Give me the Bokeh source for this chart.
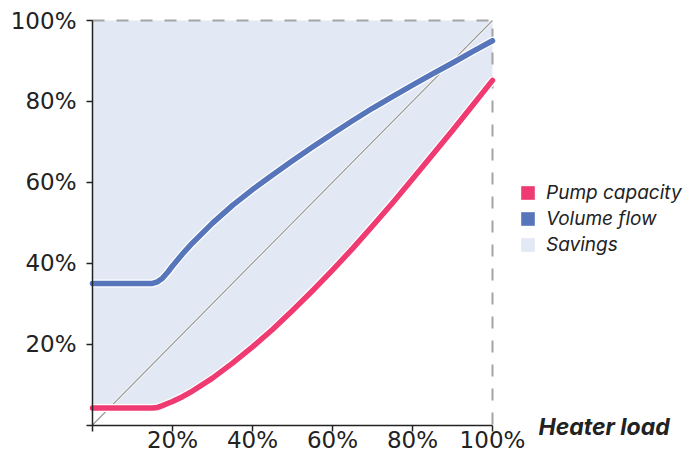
from bokeh.plotting import figure
from bokeh.models import Range1d, FixedTicker, PrintfTickFormatter, Legend, LegendItem, Label
from bokeh.embed import file_html
from bokeh.resources import INLINE

# ---- data ----
load = [0, 5, 10, 15, 16.25, 17.5, 18.75, 20, 22.5, 25, 30, 35, 40, 45, 50, 55, 60, 65, 70,
        75, 80, 85, 90, 95, 100]
pump_capacity = [4.2, 4.2, 4.2, 4.2, 4.35, 4.8, 5.3, 5.8, 7.0, 8.4, 11.6, 15.3, 19.3, 23.6,
                 28.3, 33.2, 38.3, 43.6, 49.2, 54.9, 60.8, 66.8, 72.8, 79.0, 85.2]
volume_flow = [35, 35, 35, 35, 35.4, 36.3, 37.7, 39.3, 42.3, 45.0, 49.9, 54.3, 58.2, 61.8,
               65.3, 68.7, 72.0, 75.2, 78.3, 81.2, 84.0, 86.8, 89.5, 92.3, 95.0]
savings_top = 100
diag_x = [0, 100]
diag_y = [0, 100]
box_x = [0, 100, 100]
box_y = [100, 100, 0]
ticks = [0, 20, 40, 60, 80, 100]
legend_labels = ["Pump capacity", "Volume flow", "Savings"]
x_title = "Heater load"

RED = "#EF3A72"
BLUE = "#5675BA"
FILL = "#E2E8F4"
INK = "#222222"
NAN = float("nan")

W, H = 686, 454
p = figure(width=W, height=H, output_backend="svg", toolbar_location=None,
           x_range=Range1d(-23, -23 + W / 4.0),
           y_range=Range1d(-29.5 / 4.045, 424.5 / 4.045),
           min_border_left=0, min_border_right=0, min_border_top=0, min_border_bottom=0)
p.outline_line_color = None
p.grid.visible = False
p.background_fill_color = "white"
p.border_fill_color = "white"

# savings area
p.varea(x=load, y1=pump_capacity, y2=savings_top, fill_color=FILL)
# dashed frame
p.line(box_x, box_y, line_color="#A3A3A3", line_width=2, line_dash="12 12")
# diagonal
p.line(diag_x, diag_y, line_color="white", line_width=2.5)
p.line(diag_x, diag_y, line_color="#9A9A9A", line_width=1.2)
# curves with white halo
for ys, col in ((volume_flow, BLUE), (pump_capacity, RED)):
    p.line(load, ys, line_color="white", line_width=8, line_cap="round", line_join="round")
    p.line(load, ys, line_color=col, line_width=5.5, line_cap="round", line_join="round")

# legend swatches (legend-only renderers, no visible marks)
swatches = []
for col in (RED, BLUE, FILL):
    swatches.append(p.quad(left=[NAN], right=[NAN], top=[NAN], bottom=[NAN],
                           fill_color=col, line_color=None))
legend = Legend(items=[LegendItem(label=lab, renderers=[r]) for lab, r in zip(legend_labels, swatches)],
                location=(519, 198), glyph_width=17, glyph_height=17, label_height=17,
                label_standoff=10, spacing=3, padding=0, margin=0,
                border_line_alpha=0, background_fill_alpha=0,
                label_text_font="Inter", label_text_font_style="italic",
                label_text_font_size="19px", label_text_color=INK)
p.add_layout(legend)

# axes, pinned at the data origin
for ax in (p.xaxis, p.yaxis):
    ax.fixed_location = 0
    ax.ticker = FixedTicker(ticks=ticks)
    ax.formatter = PrintfTickFormatter(format="%d%%")
    ax.major_label_overrides = {0: ""}
    ax.bounds = (0, 100)
    ax.axis_line_color = INK
    ax.axis_line_width = 1.5
    ax.major_tick_line_color = INK
    ax.major_tick_line_width = 1.5
    ax.major_tick_out = 6
    ax.major_tick_in = 0
    ax.minor_tick_line_color = None
    ax.major_label_text_font = "DejaVu Sans"
    ax.major_label_text_font_size = "23px"
    ax.major_label_text_color = INK
p.yaxis.major_label_standoff = 10
p.xaxis.major_label_standoff = -4

p.add_layout(Label(x=111.5, y=0, y_offset=-2, text=x_title, text_font="Inter",
                   text_font_style="bold italic", text_font_size="23px",
                   text_color=INK, text_baseline="middle"))

open("out.html", "w").write(file_html(p, INLINE))
